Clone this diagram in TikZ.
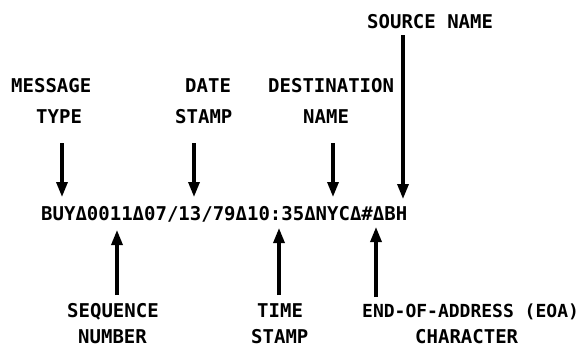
\documentclass[tikz,border=0pt]{standalone}
\usepackage{fontspec}
\newfontfamily\termfont{DejaVu Sans Mono}
\usetikzlibrary{arrows.meta}

\begin{document}
\begin{tikzpicture}[x=1pt, y=-1pt,
			lab/.style={anchor=base west, inner sep=0pt,
				font=\termfont\bfseries\fontsize{19}{22}\selectfont},
			arr/.style={-{Triangle[width=11pt, length=15pt]}, line width=3.2pt},
			]
			\useasboundingbox (0,0) rectangle (586,349);
			
			% Record
			\node[lab] (rec) at (41,220) {BUYΔ0011Δ07/13/79Δ10:35ΔNYCΔ\#ΔBH};
			
			% Labels above
			\node[lab] (src) at (367,28) {SOURCE NAME};
			\node[lab] (msg) at (11,92) {MESSAGE};
			\node[lab] (msgb) at (36,123) {TYPE};
			\node[lab] (date) at (185,92) {DATE};
			\node[lab] (dateb) at (175,123) {STAMP};
			\node[lab] (dest) at (268,92) {DESTINATION};
			\node[lab] (destb) at (303,123) {NAME};
			
			% Labels below
			\node[lab] (seq) at (67,317) {SEQUENCE};
			\node[lab] (seqb) at (78,343) {NUMBER};
			\node[lab] (time) at (257,317) {TIME};
			\node[lab] (timeb) at (251,343) {STAMP};
			\node[lab, font=\termfont\bfseries\fontsize{18}{22}\selectfont]
				(eoa) at (362,317) {END-OF-ADDRESS (EOA)};
			\node[lab] (eoab) at (415,343) {CHARACTER};
			
			% Arrow ends
			\coordinate (msgs) at (62,143);   \coordinate (msge) at (62,197);
			\coordinate (dates) at (194,143); \coordinate (datee) at (194,197);
			\coordinate (dests) at (333,143); \coordinate (deste) at (333,197);
			\coordinate (srcs) at (403,35);   \coordinate (srce) at (403,199);
			\coordinate (seqs) at (117,295);  \coordinate (seqe) at (117,230);
			\coordinate (times) at (279,295); \coordinate (timee) at (279,228);
			\coordinate (eoas) at (376,297);  \coordinate (eoae) at (376,227);
			
			% Arrows
			\draw[arr] (msgs) -- (msge);
			\draw[arr] (dates) -- (datee);
			\draw[arr] (dests) -- (deste);
			\draw[arr] (srcs) -- (srce);
			\draw[arr] (seqs) -- (seqe);
			\draw[arr] (times) -- (timee);
			\draw[arr] (eoas) -- (eoae);
		\end{tikzpicture}
\end{document}
